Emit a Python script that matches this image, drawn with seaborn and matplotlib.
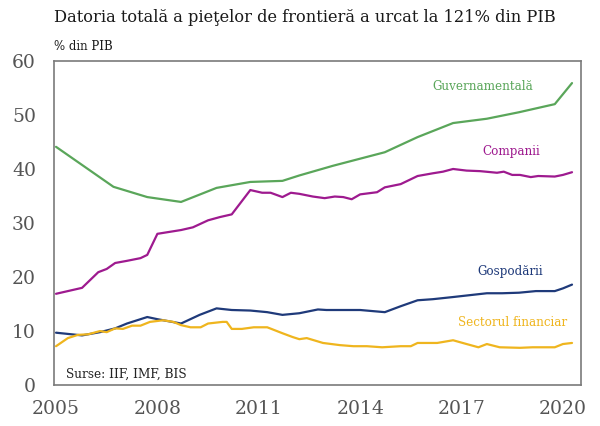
import matplotlib
matplotlib.use("Agg")
import matplotlib.pyplot as plt
import seaborn as sns
import pandas as pd

# ---- data ----
gov_years = [2005.0, 2006.7, 2007.7, 2008.7, 2009.75, 2010.75, 2011.7, 2012.2,
             2013.2, 2014.73, 2015.7, 2016.75, 2017.75, 2018.7, 2019.76, 2020.27]
gov_vals = [44.1, 36.7, 34.8, 33.9, 36.5, 37.6, 37.8, 38.8,
            40.6, 43.1, 45.9, 48.5, 49.3, 50.5, 52.0, 55.9]

comp_years = [2005.0, 2005.77, 2006.25, 2006.5, 2006.75, 2007.1, 2007.5, 2007.7,
              2008.0, 2008.3, 2008.7, 2009.05, 2009.5, 2009.85, 2010.2, 2010.75,
              2011.1, 2011.35, 2011.7, 2011.95, 2012.2, 2012.6, 2012.95, 2013.25,
              2013.5, 2013.75, 2014.0, 2014.5, 2014.73, 2015.2, 2015.7, 2016.15,
              2016.45, 2016.75, 2017.15, 2017.55, 2018.05, 2018.25, 2018.5, 2018.73,
              2019.05, 2019.27, 2019.76, 2020.0, 2020.27]
comp_vals = [16.9, 18.0, 20.9, 21.5, 22.6, 23.0, 23.5, 24.1,
             28.0, 28.3, 28.7, 29.2, 30.5, 31.1, 31.6, 36.1,
             35.6, 35.6, 34.8, 35.6, 35.4, 34.9, 34.6, 34.9,
             34.8, 34.4, 35.3, 35.7, 36.6, 37.2, 38.7, 39.2,
             39.5, 40.0, 39.7, 39.6, 39.3, 39.5, 38.9, 38.9,
             38.5, 38.7, 38.6, 38.9, 39.4]

hh_years = [2005.0, 2005.77, 2006.3, 2006.75, 2007.1, 2007.7, 2008.0, 2008.7,
            2009.25, 2009.75, 2010.2, 2010.75, 2011.25, 2011.7, 2012.2, 2012.75,
            2013.0, 2014.0, 2014.73, 2015.2, 2015.7, 2016.15, 2016.75, 2017.75,
            2018.2, 2018.7, 2019.2, 2019.76, 2020.0, 2020.27]
hh_vals = [9.7, 9.2, 9.8, 10.5, 11.4, 12.6, 12.2, 11.4,
           13.0, 14.2, 13.9, 13.8, 13.5, 13.0, 13.3, 14.0,
           13.9, 13.9, 13.5, 14.6, 15.7, 15.9, 16.3, 17.0,
           17.0, 17.1, 17.4, 17.4, 17.9, 18.6]

fin_years = [2005.0, 2005.35, 2005.65, 2005.95, 2006.3, 2006.5, 2006.75, 2006.98,
             2007.25, 2007.5, 2007.78, 2008.17, 2008.47, 2008.7, 2008.98, 2009.28,
             2009.5, 2009.93, 2010.05, 2010.2, 2010.5, 2010.85, 2011.25, 2011.7,
             2012.0, 2012.2, 2012.42, 2012.9, 2013.4, 2013.8, 2014.2, 2014.65,
             2015.2, 2015.5, 2015.7, 2016.28, 2016.75, 2017.15, 2017.5, 2017.75,
             2018.13, 2018.73, 2019.1, 2019.76, 2020.0, 2020.27]
fin_vals = [7.2, 8.7, 9.3, 9.4, 10.0, 9.8, 10.5, 10.4,
            11.0, 11.0, 11.7, 12.0, 11.7, 11.1, 10.7, 10.7,
            11.4, 11.7, 11.7, 10.4, 10.4, 10.7, 10.7, 9.6,
            8.9, 8.5, 8.7, 7.8, 7.4, 7.2, 7.2, 7.0,
            7.2, 7.2, 7.8, 7.8, 8.3, 7.6, 7.0, 7.6,
            7.0, 6.9, 7.0, 7.0, 7.6, 7.8]

series_names = ["Guvernamentală", "Companii", "Gospodării", "Sectorul financiar"]
series_colors = ["#5aa65a", "#9e1a8f", "#1f3a7a", "#efb51e"]
x_ticks = [2005, 2008, 2011, 2014, 2017, 2020]
y_ticks = [0, 10, 20, 30, 40, 50, 60]

title = "Datoria totală a pieţelor de frontieră a urcat la 121% din PIB"
unit_label = "% din PIB"
source = "Surse: IIF, IMF, BIS"

frames = []
for name, xs, ys in zip(series_names,
                        [gov_years, comp_years, hh_years, fin_years],
                        [gov_vals, comp_vals, hh_vals, fin_vals]):
    frames.append(pd.DataFrame({"an": xs, "val": ys, "serie": name}))
df = pd.concat(frames, ignore_index=True)

sns.set_theme(style="white")
plt.rcParams["font.family"] = ["DejaVu Serif"]

fig = plt.figure(figsize=(6.0, 4.26), dpi=100)
ax = fig.add_axes([0.09, 0.096, 0.878, 0.761])

sns.lineplot(data=df, x="an", y="val", hue="serie", hue_order=series_names,
             palette=series_colors, linewidth=1.6, legend=False, ax=ax,
             estimator=None, sort=True)

ax.set_xlim(2004.94, 2020.53)
ax.set_ylim(0, 60)
ax.set_xticks(x_ticks)
ax.set_yticks(y_ticks)
ax.set_xlabel("")
ax.set_ylabel("")
ax.tick_params(axis="both", length=0, labelsize=13.5, colors="#555555")
ax.tick_params(axis="y", pad=13)
ax.tick_params(axis="x", pad=11)
for s in ax.spines.values():
    s.set_color("#7a7a7a")
    s.set_linewidth(1.2)

label_pos = [(2017.63, 55.2), (2018.46, 43.3), (2018.43, 21.1), (2018.52, 11.5)]
for name, col, (lx, ly) in zip(series_names, series_colors, label_pos):
    ax.text(lx, ly, name, color=col, fontsize=8.6, ha="center", va="center")

ax.text(2005.3, 2.0, source, color="#222222", fontsize=8.7, ha="left", va="center")

fig.text(54 / 600, 1 - 18 / 426, title, fontsize=11.7, color="#1a1a1a",
         ha="left", va="center")
fig.text(54 / 600, 1 - 46 / 426, unit_label, fontsize=8.5, color="#1a1a1a",
         ha="left", va="center")

fig.savefig("out.png", dpi=100)
